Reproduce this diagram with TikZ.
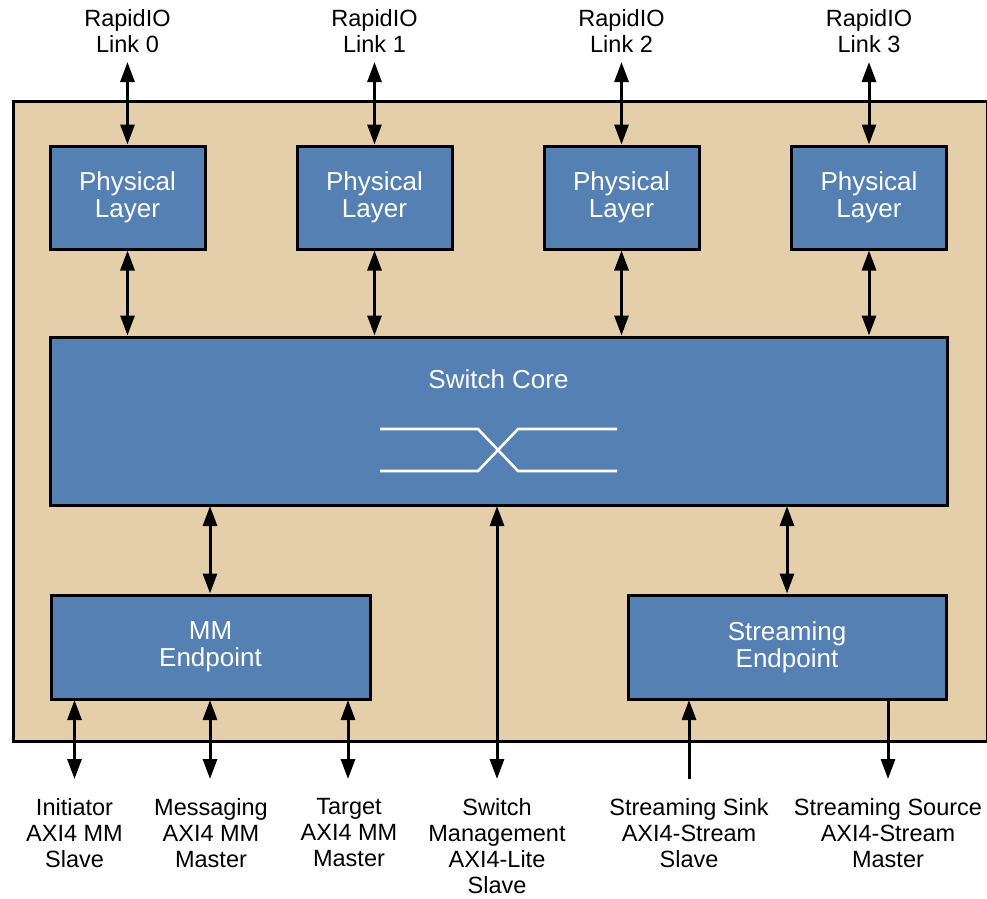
\documentclass[tikz,border=0pt]{standalone}
\usepackage{fontspec}
\setmainfont{Liberation Sans}
\usetikzlibrary{arrows.meta}
\definecolor{tan}{HTML}{E4CFAA}
\definecolor{blu}{HTML}{5580B3}
\begin{document}
\begin{tikzpicture}[x=1pt,y=-1pt,
  blk/.style={draw=black,line width=3pt,fill=blu,text=white,font=\fontsize{26}{27}\selectfont,align=center,inner sep=0pt},
  lbl/.style={font=\fontsize{23.5}{26}\selectfont,align=center,inner sep=0pt,anchor=north},
  arr/.style={line width=3pt,{Triangle[length=20pt,width=14pt]}-{Triangle[length=20pt,width=14pt]}},
  arrd/.style={line width=3pt,-{Triangle[length=20pt,width=14pt]}},
  arru/.style={line width=3pt,{Triangle[length=20pt,width=14pt]}-}]
\useasboundingbox (0,0) rectangle (987,898);
\node[draw=black,line width=3pt,fill=tan,minimum width=974pt,minimum height=640pt,inner sep=0pt,anchor=north west] (outer) at (11.5,100) {};
% physical layers
\foreach \i/\x in {0/127.5,1/374.5,2/621.5,3/869}{
  \node[blk,minimum width=155pt,minimum height=103pt] (p\i) at (\x,197.5) {Physical\\Layer};
  \node[lbl] (l\i) at (\x,9.5) {RapidIO\\Link \i};
  \coordinate (t\i) at (\x,62);
  \draw[arr] (t\i) -- (p\i.north);
}
% switch core
\node[blk,minimum width=897pt,minimum height=168pt] (core) at (498.5,421) {};
\node[text=white,font=\fontsize{26}{27}\selectfont,inner sep=0pt] (coretxt) at (498.5,379) {Switch Core};
\foreach \i in {0,...,3}{
  \draw[arr] (p\i.south) -- (p\i.south |- core.north);
}
\coordinate (xl1) at (380,429); \coordinate (xl2) at (380,471);
\coordinate (xa) at (478,429); \coordinate (xb) at (478,471);
\coordinate (xc) at (518,429); \coordinate (xd) at (518,471);
\coordinate (xr1) at (617,429); \coordinate (xr2) at (617,471);
\draw[white,line width=2.6pt] (xl1) -- (xa) -- (xd) -- (xr2);
\draw[white,line width=2.6pt] (xl2) -- (xb) -- (xc) -- (xr1);
% endpoints
\node[blk,minimum width=319pt,minimum height=104pt] (mm) at (210.5,647) {MM\\Endpoint};
\node[blk,minimum width=318pt,minimum height=104pt] (st) at (787,647) {Streaming\\Endpoint};
\coordinate (mmtop) at (210,594);
\coordinate (mmc) at (210,506);
\coordinate (sttop) at (787,594);
\coordinate (stc) at (787,506);
\draw[arr] (mm.north -| mmtop) -- (mmc);
\draw[arr] (st.north -| sttop) -- (stc);
% bottom labels
\node[lbl] (b1) at (74.5,798.5) {Initiator\\AXI4 MM\\Slave};
\node[lbl] (b2) at (211,798.5) {Messaging\\AXI4 MM\\Master};
\node[lbl] (b3) at (349,798.5) {Target\\AXI4 MM\\Master};
\node[lbl] (b4) at (497,798.5) {Switch\\Management\\AXI4-Lite\\Slave};
\node[lbl] (b5) at (689,798.5) {Streaming Sink\\AXI4-Stream\\Slave};
\node[lbl] (b6) at (888,798.5) {Streaming Source\\AXI4-Stream\\Master};
\coordinate (e1) at (74.5,779); \coordinate (s1) at (74.5,700);
\coordinate (e2) at (210,779); \coordinate (s2) at (210,700);
\coordinate (e3) at (348,779); \coordinate (s3) at (348,700);
\coordinate (e4) at (497,779); \coordinate (s4) at (497,506);
\coordinate (e5) at (689,779); \coordinate (s5) at (689,700);
\coordinate (e6) at (888,779); \coordinate (s6) at (888,700);
\draw[arr] (s1) -- (e1);
\draw[arr] (s2) -- (e2);
\draw[arr] (s3) -- (e3);
\draw[arr] (s4) -- (e4);
\draw[arru] (s5) -- (e5);
\draw[arrd] (s6) -- (e6);
\end{tikzpicture}
\end{document}
